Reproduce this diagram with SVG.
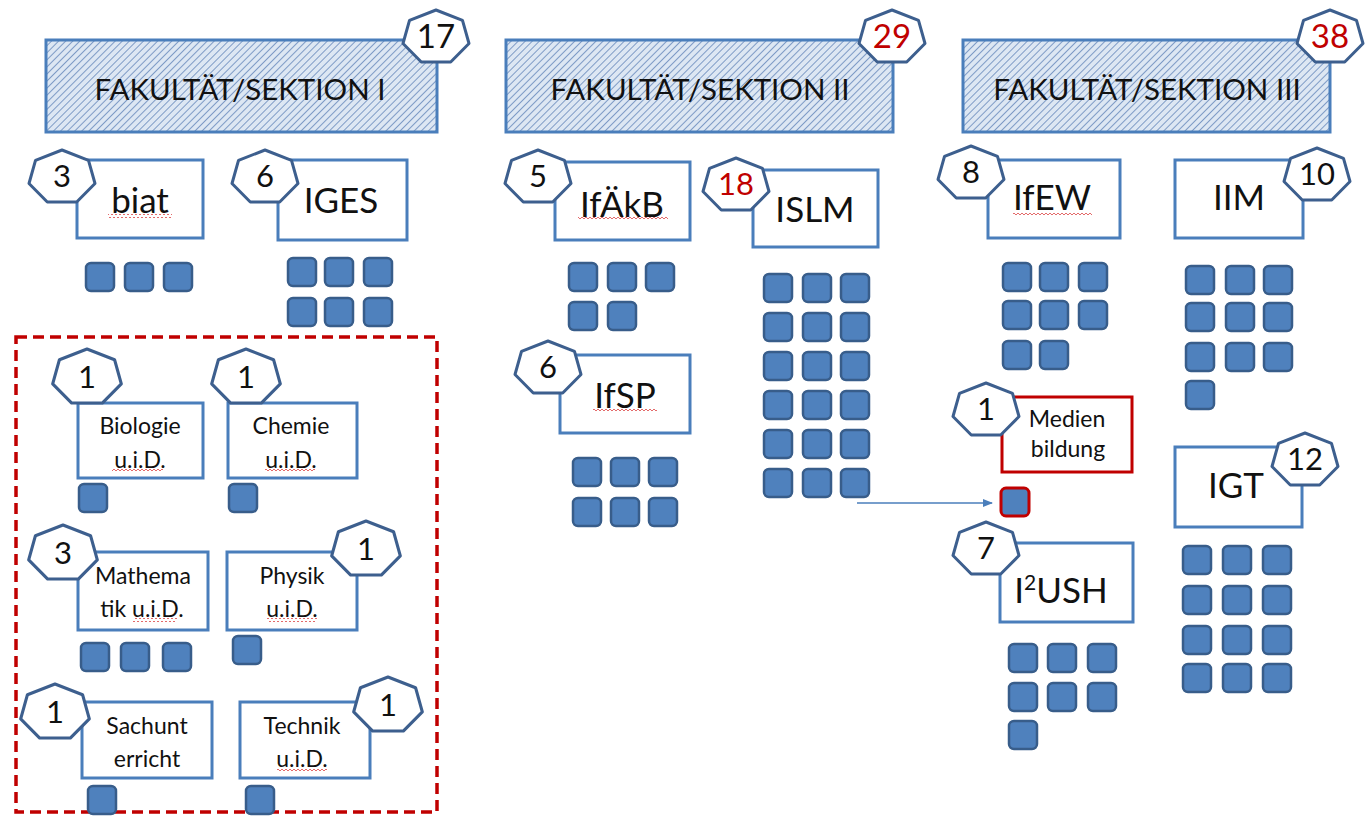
<svg xmlns="http://www.w3.org/2000/svg" xmlns:xlink="http://www.w3.org/1999/xlink" width="1367" height="818" viewBox="0 0 1367 818">
<style>
text{font-family:Lato,"Open Sans","Liberation Sans",sans-serif;fill:#111;text-anchor:middle}
.hdr{fill:url(#hatch);stroke:#4a7ebb;stroke-width:3}
.box{fill:#fff;stroke:#4a7ebb;stroke-width:3}
.rbox{fill:#fff;stroke:#c00000;stroke-width:3}
.hep{fill:#fff;stroke:#3d5f8e;stroke-width:3;stroke-linejoin:round}
.sq{fill:#4f81bd;stroke:#385d8a;stroke-width:2.5}
.sqr{fill:#4f81bd;stroke:#c00000;stroke-width:3}
.ht{font-size:29.5px}
.num{font-size:31px}
.hnum{font-size:33px}
.red{fill:#c00000}
.big{font-size:35px}
.sm{font-size:23px}
.wav{fill:url(#wave)}
.conn{stroke:#4a7ebb;stroke-width:1.5;fill:none}
</style>
<defs>
<pattern id="hatch" width="5" height="5" patternUnits="userSpaceOnUse" patternTransform="rotate(45)">
<rect width="5" height="5" fill="#dde7f3"/>
<line x1="0" y1="0" x2="0" y2="5" stroke="#7e9bc6" stroke-width="2"/>
</pattern>
<pattern id="wave" width="4" height="4" patternUnits="userSpaceOnUse">
<path d="M0,3 L2,1 L4,3" fill="none" stroke="#e05a5a" stroke-width="0.9"/>
</pattern>
<polygon id="hp" points="0,-26 26.5,-15.7 33,7.5 14.7,26 -14.7,26 -33,7.5 -26.5,-15.7"/>
<rect id="sq" width="28" height="28" rx="5"/>
<marker id="arr" markerWidth="10" markerHeight="8" refX="9" refY="4" orient="auto" markerUnits="userSpaceOnUse">
<path d="M0,0 L10,4 L0,8 Z" fill="#4a7ebb"/>
</marker>
</defs>
<rect width="1367" height="818" fill="#fff"/>

<g id="fak1">
<rect class="hdr" x="46" y="40" width="391" height="92"/>
<text class="ht" x="240" y="100">FAKULTÄT/SEKTION I</text>
<use href="#hp" class="hep" transform="translate(436,36)"/>
<text class="hnum" x="436" y="48">17</text>
</g>
<g id="fak2">
<rect class="hdr" x="506" y="40" width="387" height="92"/>
<text class="ht" x="700" y="100">FAKULTÄT/SEKTION II</text>
<use href="#hp" class="hep" transform="translate(892,36)"/>
<text class="hnum red" x="892" y="48">29</text>
</g>
<g id="fak3">
<rect class="hdr" x="963" y="40" width="367" height="92"/>
<text class="ht" x="1147" y="100">FAKULTÄT/SEKTION III</text>
<use href="#hp" class="hep" transform="translate(1330,36)"/>
<text class="hnum red" x="1330" y="48">38</text>
</g>

<g id="biat">
<rect class="box" x="77" y="160" width="126" height="78"/>
<text class="big" x="140" y="213">biat</text>
<rect class="wav" x="108" y="214" width="64" height="4"/>
<use href="#hp" class="hep" transform="translate(62,176)"/>
<text class="num" x="62" y="187">3</text>
<use href="#sq" class="sq" x="86" y="263"/><use href="#sq" class="sq" x="125" y="263"/><use href="#sq" class="sq" x="164" y="263"/>
</g>
<g id="iges">
<rect class="box" x="278" y="160" width="129" height="80"/>
<text class="big" x="341" y="213">IGES</text>
<use href="#hp" class="hep" transform="translate(265,176)"/>
<text class="num" x="265" y="187">6</text>
<use href="#sq" class="sq" x="288" y="258"/><use href="#sq" class="sq" x="325" y="258"/><use href="#sq" class="sq" x="364" y="258"/>
<use href="#sq" class="sq" x="288" y="298"/><use href="#sq" class="sq" x="325" y="298"/><use href="#sq" class="sq" x="364" y="298"/>
</g>
<g id="ifakb">
<rect class="box" x="555" y="162" width="135" height="78"/>
<text class="big" x="622" y="217">IfÄkB</text>
<rect class="wav" x="578" y="217" width="90" height="4"/>
<use href="#hp" class="hep" transform="translate(538,176)"/>
<text class="num" x="538" y="187">5</text>
<use href="#sq" class="sq" x="569" y="263"/><use href="#sq" class="sq" x="608" y="263"/><use href="#sq" class="sq" x="646" y="263"/>
<use href="#sq" class="sq" x="569" y="302"/><use href="#sq" class="sq" x="608" y="302"/>
</g>
<g id="islm">
<rect class="box" x="753" y="170" width="125" height="77"/>
<text class="big" x="815" y="222">ISLM</text>
<use href="#hp" class="hep" transform="translate(736,184)"/>
<text class="num red" x="736" y="195">18</text>
<use href="#sq" class="sq" x="764" y="274"/><use href="#sq" class="sq" x="803" y="274"/><use href="#sq" class="sq" x="841" y="274"/>
<use href="#sq" class="sq" x="764" y="313"/><use href="#sq" class="sq" x="803" y="313"/><use href="#sq" class="sq" x="841" y="313"/>
<use href="#sq" class="sq" x="764" y="352"/><use href="#sq" class="sq" x="803" y="352"/><use href="#sq" class="sq" x="841" y="352"/>
<use href="#sq" class="sq" x="764" y="391"/><use href="#sq" class="sq" x="803" y="391"/><use href="#sq" class="sq" x="841" y="391"/>
<use href="#sq" class="sq" x="764" y="430"/><use href="#sq" class="sq" x="803" y="430"/><use href="#sq" class="sq" x="841" y="430"/>
<use href="#sq" class="sq" x="764" y="469"/><use href="#sq" class="sq" x="803" y="469"/><use href="#sq" class="sq" x="841" y="469"/>
</g>
<g id="ifsp">
<rect class="box" x="560" y="355" width="130" height="78"/>
<text class="big" x="625" y="408">IfSP</text>
<rect class="wav" x="593" y="409" width="64" height="4"/>
<use href="#hp" class="hep" transform="translate(548,367)"/>
<text class="num" x="548" y="378">6</text>
<use href="#sq" class="sq" x="573" y="458"/><use href="#sq" class="sq" x="611" y="458"/><use href="#sq" class="sq" x="649" y="458"/>
<use href="#sq" class="sq" x="573" y="498"/><use href="#sq" class="sq" x="611" y="498"/><use href="#sq" class="sq" x="649" y="498"/>
</g>
<g id="ifew">
<rect class="box" x="988" y="160" width="132" height="78"/>
<text class="big" x="1052" y="210">IfEW</text>
<rect class="wav" x="1013" y="213" width="79" height="4"/>
<use href="#hp" class="hep" transform="translate(971,172)"/>
<text class="num" x="971" y="183">8</text>
<use href="#sq" class="sq" x="1003" y="263"/><use href="#sq" class="sq" x="1040" y="263"/><use href="#sq" class="sq" x="1079" y="263"/>
<use href="#sq" class="sq" x="1003" y="301"/><use href="#sq" class="sq" x="1040" y="301"/><use href="#sq" class="sq" x="1079" y="301"/>
<use href="#sq" class="sq" x="1003" y="341"/><use href="#sq" class="sq" x="1040" y="341"/>
</g>
<g id="iim">
<rect class="box" x="1175" y="160" width="128" height="78"/>
<text class="big" x="1239" y="210">IIM</text>
<use href="#hp" class="hep" transform="translate(1317,174)"/>
<text class="num" x="1317" y="185">10</text>
<use href="#sq" class="sq" x="1186" y="266"/><use href="#sq" class="sq" x="1226" y="266"/><use href="#sq" class="sq" x="1264" y="266"/>
<use href="#sq" class="sq" x="1186" y="303"/><use href="#sq" class="sq" x="1226" y="303"/><use href="#sq" class="sq" x="1264" y="303"/>
<use href="#sq" class="sq" x="1186" y="343"/><use href="#sq" class="sq" x="1226" y="343"/><use href="#sq" class="sq" x="1264" y="343"/>
<use href="#sq" class="sq" x="1186" y="381"/>
</g>
<g id="medien">
<rect class="rbox" x="1002" y="397" width="130" height="75"/>
<text class="sm" x="1067" y="427">Medien</text>
<text class="sm" x="1068" y="457">bildung</text>
<use href="#hp" class="hep" transform="translate(986,409)"/>
<text class="num" x="986" y="420">1</text>
<use href="#sq" class="sqr" x="1001" y="488" width="26" height="26"/>
</g>
<g id="i2ush">
<rect class="box" x="1000" y="543" width="133" height="79"/>
<text class="big" x="1061" y="603">I<tspan font-size="21" dy="-13">2</tspan><tspan dy="13">USH</tspan></text>
<use href="#hp" class="hep" transform="translate(986,548)"/>
<text class="num" x="986" y="559">7</text>
<use href="#sq" class="sq" x="1009" y="644"/><use href="#sq" class="sq" x="1048" y="644"/><use href="#sq" class="sq" x="1088" y="644"/>
<use href="#sq" class="sq" x="1009" y="683"/><use href="#sq" class="sq" x="1048" y="683"/><use href="#sq" class="sq" x="1088" y="683"/>
<use href="#sq" class="sq" x="1009" y="721"/>
</g>
<g id="igt">
<rect class="box" x="1175" y="447" width="127" height="80"/>
<text class="big" x="1236" y="498">IGT</text>
<use href="#hp" class="hep" transform="translate(1305,459)"/>
<text class="num" x="1305" y="470">12</text>
<use href="#sq" class="sq" x="1183" y="546"/><use href="#sq" class="sq" x="1223" y="546"/><use href="#sq" class="sq" x="1263" y="546"/>
<use href="#sq" class="sq" x="1183" y="586"/><use href="#sq" class="sq" x="1223" y="586"/><use href="#sq" class="sq" x="1263" y="586"/>
<use href="#sq" class="sq" x="1183" y="626"/><use href="#sq" class="sq" x="1223" y="626"/><use href="#sq" class="sq" x="1263" y="626"/>
<use href="#sq" class="sq" x="1183" y="664"/><use href="#sq" class="sq" x="1223" y="664"/><use href="#sq" class="sq" x="1263" y="664"/>
</g>

<g id="didaktik-gruppe">
<rect x="16" y="337" width="421" height="475" fill="none" stroke="#c00000" stroke-width="3.5" stroke-dasharray="11 6"/>
</g>
<g id="biologie">
<rect class="box" x="78" y="403" width="125" height="75"/>
<text class="sm" x="140" y="434">Biologie</text>
<text class="sm" x="140" y="468">u.i.D.</text>
<rect class="wav" x="112" y="469" width="51" height="4"/>
<use href="#hp" class="hep" transform="translate(87,376) scale(1.04)"/>
<text class="num" x="87" y="388">1</text>
<use href="#sq" class="sq" x="79" y="484"/>
</g>
<g id="chemie">
<rect class="box" x="228" y="403" width="129" height="75"/>
<text class="sm" x="291" y="434">Chemie</text>
<text class="sm" x="291" y="468">u.i.D.</text>
<rect class="wav" x="265" y="469" width="50" height="4"/>
<use href="#hp" class="hep" transform="translate(246,376) scale(1.04)"/>
<text class="num" x="246" y="388">1</text>
<use href="#sq" class="sq" x="229" y="484"/>
</g>
<g id="mathematik">
<rect class="box" x="78" y="552" width="130" height="78"/>
<text class="sm" x="143" y="584" font-size="21">Mathema</text>
<text class="sm" x="142" y="617" font-size="21">tik u.i.D.</text>
<rect class="wav" x="133" y="618" width="44" height="4"/>
<use href="#hp" class="hep" transform="translate(63,552) scale(1.04)"/>
<text class="num" x="63" y="564">3</text>
<use href="#sq" class="sq" x="81" y="643"/><use href="#sq" class="sq" x="121" y="643"/><use href="#sq" class="sq" x="163" y="643"/>
</g>
<g id="physik">
<rect class="box" x="227" y="552" width="130" height="78"/>
<text class="sm" x="292" y="584">Physik</text>
<text class="sm" x="292" y="617">u.i.D.</text>
<rect class="wav" x="267" y="618" width="50" height="4"/>
<use href="#hp" class="hep" transform="translate(366,548) scale(1.04)"/>
<text class="num" x="366" y="560">1</text>
<use href="#sq" class="sq" x="233" y="636"/>
</g>
<g id="sachunterricht">
<rect class="box" x="82" y="702" width="130" height="76"/>
<text class="sm" x="147" y="734">Sachunt</text>
<text class="sm" x="147" y="767">erricht</text>
<use href="#hp" class="hep" transform="translate(55,711) scale(1.04)"/>
<text class="num" x="55" y="723">1</text>
<use href="#sq" class="sq" x="88" y="786"/>
</g>
<g id="technik">
<rect class="box" x="240" y="702" width="130" height="76"/>
<text class="sm" x="302" y="734">Technik</text>
<text class="sm" x="302" y="767">u.i.D.</text>
<rect class="wav" x="277" y="768" width="50" height="4"/>
<use href="#hp" class="hep" transform="translate(388,704) scale(1.04)"/>
<text class="num" x="388" y="716">1</text>
<use href="#sq" class="sq" x="246" y="786"/>
</g>

<g id="connectors">
<line class="conn" x1="857" y1="503" x2="992" y2="503" marker-end="url(#arr)"/>
</g>
</svg>
